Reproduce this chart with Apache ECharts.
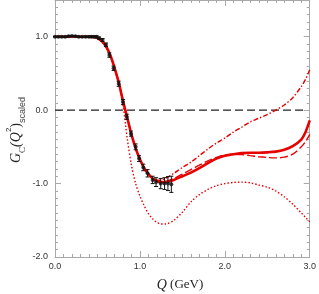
<!DOCTYPE html>
<html><head><meta charset="utf-8">
<script src="https://cdn.jsdelivr.net/npm/echarts@6/dist/echarts.min.js"></script>
<style>html,body{margin:0;padding:0;background:#fff}#c{width:319px;height:294px}</style>
</head><body><div id="c"></div>
<script>
// ---- data ----
const qTheory = [0,0.1,0.2,0.3,0.4,0.45,0.5,0.55,0.6,0.65,0.7,0.75,0.8,0.85,0.9,0.95,1.0,1.05,1.1,1.15,1.2,1.25,1.3,1.4,1.5,1.6,1.7,1.8,1.9,2.0,2.1,2.2,2.3,2.4,2.5,2.6,2.7,2.8,2.9,2.95,3.0];
const solidG = [1.0,1.0,1.005,1.0,1.0,0.995,0.98,0.94,0.87,0.75,0.58,0.38,0.13,-0.1,-0.33,-0.52,-0.67,-0.79,-0.87,-0.93,-0.965,-0.98,-0.98,-0.95,-0.9,-0.85,-0.79,-0.72,-0.66,-0.62,-0.6,-0.585,-0.58,-0.58,-0.575,-0.565,-0.54,-0.49,-0.4,-0.3,-0.14];
const longDashG = [1.0,1.0,1.005,1.0,1.0,0.995,0.98,0.94,0.87,0.75,0.58,0.38,0.13,-0.1,-0.33,-0.52,-0.67,-0.79,-0.87,-0.93,-0.96,-0.975,-0.97,-0.93,-0.87,-0.81,-0.75,-0.69,-0.645,-0.61,-0.6,-0.605,-0.62,-0.635,-0.645,-0.65,-0.64,-0.6,-0.5,-0.43,-0.33];
const dashDotG = [1.0,1.0,1.005,1.0,1.0,0.995,0.98,0.94,0.87,0.75,0.58,0.38,0.13,-0.1,-0.33,-0.52,-0.67,-0.79,-0.87,-0.93,-0.955,-0.95,-0.93,-0.86,-0.78,-0.71,-0.62,-0.53,-0.45,-0.38,-0.3,-0.23,-0.16,-0.11,-0.06,0.0,0.07,0.17,0.32,0.42,0.55];
const dottedG = [1.0,1.0,1.005,1.0,1.0,0.995,0.98,0.94,0.87,0.75,0.58,0.37,0.08,-0.38,-0.75,-1.0,-1.17,-1.3,-1.41,-1.48,-1.53,-1.55,-1.55,-1.5,-1.39,-1.25,-1.15,-1.08,-1.03,-1.0,-0.985,-0.98,-0.99,-1.02,-1.05,-1.1,-1.18,-1.28,-1.4,-1.46,-1.52];
const dataQ = [0.0,0.04,0.08,0.12,0.16,0.2,0.24,0.28,0.32,0.36,0.4,0.43,0.46,0.49,0.52,0.56,0.6,0.64,0.69,0.75,0.8,0.845,0.895,0.95,0.99,1.04,1.09,1.15,1.19,1.245,1.29,1.33,1.37];
const dataG = [1.0,1.0,1.0,1.0,1.005,1.01,1.005,1.0,1.0,1.0,1.0,1.0,1.0,1.0,0.98,0.955,0.89,0.75,0.57,0.36,0.11,-0.09,-0.32,-0.5,-0.66,-0.78,-0.86,-0.95,-0.98,-1.0,-1.0,-1.0,-1.01];
const dataErr = [0.005,0.005,0.005,0.005,0.005,0.005,0.005,0.005,0.005,0.006,0.008,0.01,0.01,0.012,0.015,0.02,0.025,0.03,0.03,0.035,0.035,0.035,0.035,0.04,0.04,0.045,0.05,0.05,0.06,0.07,0.08,0.095,0.11];
const zeroQ = [0, 2.94];
const zeroG = [0, 0];
const xTicks = [0,1,2,3];
const yTicks = [-2,-1,0,1];

const RED = '#e60000';
const pairs = (xs, ys) => xs.map((x,i)=>[x, ys[i]]);
const axisGray = '#a8a8a8';
const chart = echarts.init(document.getElementById('c'), null, {renderer:'canvas'});

function xAx(pos, labels){
  return {type:'value', min:0, max:3, interval:1, position:pos, gridIndex:0,
    axisLine:{show:true, onZero:false, lineStyle:{color:axisGray, width:1}},
    axisTick:{show:true, inside:true, length:6, lineStyle:{color:axisGray}},
    minorTick:{show:true, splitNumber:10, length:3, lineStyle:{color:axisGray}},
    axisLabel:{show:labels, fontSize:9, color:'#333', margin:5, fontFamily:'Liberation Sans',
      formatter:v=>xTicks.includes(v)?v.toFixed(1):''},
    splitLine:{show:false}, minorSplitLine:{show:false}};
}
function yAx(pos, interval, tickLen, labels, line){
  return {type:'value', min:-2, max:1.5, interval:interval, position:pos, gridIndex:0,
    axisLine:{show:line, onZero:false, lineStyle:{color:axisGray, width:1}},
    axisTick:{show:true, inside:true, length:tickLen, lineStyle:{color:axisGray}},
    axisLabel:{show:labels, fontSize:9, color:'#333', margin:7, fontFamily:'Liberation Sans',
      showMaxLabel:false, formatter:v=>yTicks.includes(v)?v.toFixed(1):''},
    splitLine:{show:false}};
}

const option = {
  animation:false,
  backgroundColor:'#fff',
  grid:{left:55, right:7, top:0, height:257, containLabel:false},
  xAxis:[xAx('bottom', true), xAx('top', false)],
  yAxis:[yAx('left',1,6,true,true), yAx('left',0.1,3,false,false), yAx('right',1,6,false,true), yAx('right',0.1,3,false,false)],
  graphic:[
    {type:'text', x:16, y:130, rotation:Math.PI/2, z:10,
      style:{text:'{g|G}{sub|C}{g|(}{g|Q}{sup|2}{p|)}{s|scaled}', align:'center', verticalAlign:'middle',
        rich:{
          g:{fontFamily:'Liberation Serif', fontStyle:'italic', fontSize:14, lineHeight:22, verticalAlign:'middle', fill:'#222'},
          p:{fontFamily:'Liberation Serif', fontSize:14, lineHeight:22, verticalAlign:'middle', fill:'#222'},
          sub:{fontFamily:'Liberation Serif', fontSize:9, lineHeight:22, verticalAlign:'bottom', fill:'#222'},
          sup:{fontFamily:'Liberation Sans', fontSize:8, lineHeight:22, verticalAlign:'top', fill:'#222'},
          s:{fontFamily:'Liberation Sans', fontSize:9, lineHeight:22, verticalAlign:'bottom', fill:'#444'}
        }}},
    {type:'text', x:180, y:285, z:10,
      style:{text:'{q|Q} {t|(GeV)}', align:'center', verticalAlign:'middle',
        rich:{q:{fontFamily:'Liberation Serif', fontStyle:'italic', fontSize:14, fill:'#222'},
              t:{fontFamily:'Liberation Serif', fontSize:13, fill:'#222'}}}}
  ],
  series:[
    {type:'line', data:pairs(zeroQ, zeroG), symbol:'none', z:1,
      lineStyle:{color:'#222', width:1.3, type:[8,4]}},
    {type:'line', data:pairs(qTheory, dottedG), symbol:'none', smooth:0.3, z:2,
      lineStyle:{color:RED, width:1.4, type:[1.5,2]}},
    {type:'line', data:pairs(qTheory, dashDotG), symbol:'none', smooth:0.3, z:2,
      lineStyle:{color:RED, width:1.4, type:[5,2,1.5,2]}},
    {type:'line', data:pairs(qTheory, longDashG), symbol:'none', smooth:0.3, z:2,
      lineStyle:{color:RED, width:1.4, type:[8,3]}},
    {type:'line', data:pairs(qTheory, solidG), symbol:'none', smooth:0.3, z:3,
      lineStyle:{color:RED, width:2.6}},
    {type:'custom', z:4,
      data:dataQ.map((q,i)=>[q, dataG[i]-dataErr[i], dataG[i]+dataErr[i]]),
      renderItem:(params, api)=>{
        const lo = api.coord([api.value(0), api.value(1)]);
        const hi = api.coord([api.value(0), api.value(2)]);
        const w = 2;
        const st = {stroke:'#111', lineWidth:1};
        return {type:'group', children:[
          {type:'line', shape:{x1:lo[0],y1:lo[1],x2:hi[0],y2:hi[1]}, style:st},
          {type:'line', shape:{x1:lo[0]-w,y1:lo[1],x2:lo[0]+w,y2:lo[1]}, style:st},
          {type:'line', shape:{x1:hi[0]-w,y1:hi[1],x2:hi[0]+w,y2:hi[1]}, style:st}
        ]};
      }},
    {type:'scatter', data:pairs(dataQ, dataG), symbol:'circle', symbolSize:4, z:5,
      itemStyle:{color:'#111'}}
  ]
};
chart.setOption(option);
</script></body></html>
